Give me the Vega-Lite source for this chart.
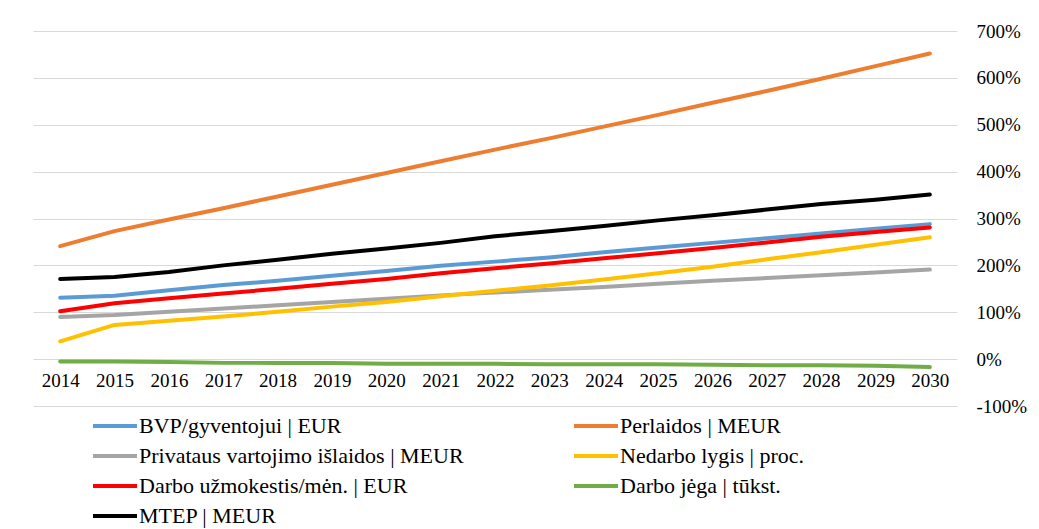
{
  "$schema": "https://vega.github.io/schema/vega-lite/v6.json",
  "width": 924,
  "height": 375,
  "autosize": "none",
  "padding": {"left": 33, "top": 31, "right": 82, "bottom": 123},
  "background": "white",
  "config": {
    "view": {"stroke": null},
    "font": "Liberation Serif"
  },
  "data": {
    "values": [
      {"year": "2014", "s": "BVP/gyventojui | EUR", "v": 131},
      {"year": "2015", "s": "BVP/gyventojui | EUR", "v": 135},
      {"year": "2016", "s": "BVP/gyventojui | EUR", "v": 147},
      {"year": "2017", "s": "BVP/gyventojui | EUR", "v": 158},
      {"year": "2018", "s": "BVP/gyventojui | EUR", "v": 167},
      {"year": "2019", "s": "BVP/gyventojui | EUR", "v": 178},
      {"year": "2020", "s": "BVP/gyventojui | EUR", "v": 188},
      {"year": "2021", "s": "BVP/gyventojui | EUR", "v": 199},
      {"year": "2022", "s": "BVP/gyventojui | EUR", "v": 208},
      {"year": "2023", "s": "BVP/gyventojui | EUR", "v": 217},
      {"year": "2024", "s": "BVP/gyventojui | EUR", "v": 228},
      {"year": "2025", "s": "BVP/gyventojui | EUR", "v": 238},
      {"year": "2026", "s": "BVP/gyventojui | EUR", "v": 248},
      {"year": "2027", "s": "BVP/gyventojui | EUR", "v": 258},
      {"year": "2028", "s": "BVP/gyventojui | EUR", "v": 268},
      {"year": "2029", "s": "BVP/gyventojui | EUR", "v": 278},
      {"year": "2030", "s": "BVP/gyventojui | EUR", "v": 288},

      {"year": "2014", "s": "Perlaidos | MEUR", "v": 241},
      {"year": "2015", "s": "Perlaidos | MEUR", "v": 273},
      {"year": "2016", "s": "Perlaidos | MEUR", "v": 298},
      {"year": "2017", "s": "Perlaidos | MEUR", "v": 322},
      {"year": "2018", "s": "Perlaidos | MEUR", "v": 347},
      {"year": "2019", "s": "Perlaidos | MEUR", "v": 372},
      {"year": "2020", "s": "Perlaidos | MEUR", "v": 397},
      {"year": "2021", "s": "Perlaidos | MEUR", "v": 422},
      {"year": "2022", "s": "Perlaidos | MEUR", "v": 447},
      {"year": "2023", "s": "Perlaidos | MEUR", "v": 471},
      {"year": "2024", "s": "Perlaidos | MEUR", "v": 496},
      {"year": "2025", "s": "Perlaidos | MEUR", "v": 521},
      {"year": "2026", "s": "Perlaidos | MEUR", "v": 547},
      {"year": "2027", "s": "Perlaidos | MEUR", "v": 572},
      {"year": "2028", "s": "Perlaidos | MEUR", "v": 598},
      {"year": "2029", "s": "Perlaidos | MEUR", "v": 625},
      {"year": "2030", "s": "Perlaidos | MEUR", "v": 652},

      {"year": "2014", "s": "Privataus vartojimo išlaidos | MEUR", "v": 90},
      {"year": "2015", "s": "Privataus vartojimo išlaidos | MEUR", "v": 94},
      {"year": "2016", "s": "Privataus vartojimo išlaidos | MEUR", "v": 101},
      {"year": "2017", "s": "Privataus vartojimo išlaidos | MEUR", "v": 108},
      {"year": "2018", "s": "Privataus vartojimo išlaidos | MEUR", "v": 115},
      {"year": "2019", "s": "Privataus vartojimo išlaidos | MEUR", "v": 122},
      {"year": "2020", "s": "Privataus vartojimo išlaidos | MEUR", "v": 129},
      {"year": "2021", "s": "Privataus vartojimo išlaidos | MEUR", "v": 136},
      {"year": "2022", "s": "Privataus vartojimo išlaidos | MEUR", "v": 142},
      {"year": "2023", "s": "Privataus vartojimo išlaidos | MEUR", "v": 148},
      {"year": "2024", "s": "Privataus vartojimo išlaidos | MEUR", "v": 154},
      {"year": "2025", "s": "Privataus vartojimo išlaidos | MEUR", "v": 161},
      {"year": "2026", "s": "Privataus vartojimo išlaidos | MEUR", "v": 167},
      {"year": "2027", "s": "Privataus vartojimo išlaidos | MEUR", "v": 173},
      {"year": "2028", "s": "Privataus vartojimo išlaidos | MEUR", "v": 179},
      {"year": "2029", "s": "Privataus vartojimo išlaidos | MEUR", "v": 185},
      {"year": "2030", "s": "Privataus vartojimo išlaidos | MEUR", "v": 191},

      {"year": "2014", "s": "Nedarbo lygis | proc.", "v": 38},
      {"year": "2015", "s": "Nedarbo lygis | proc.", "v": 73},
      {"year": "2016", "s": "Nedarbo lygis | proc.", "v": 82},
      {"year": "2017", "s": "Nedarbo lygis | proc.", "v": 91},
      {"year": "2018", "s": "Nedarbo lygis | proc.", "v": 101},
      {"year": "2019", "s": "Nedarbo lygis | proc.", "v": 112},
      {"year": "2020", "s": "Nedarbo lygis | proc.", "v": 122},
      {"year": "2021", "s": "Nedarbo lygis | proc.", "v": 134},
      {"year": "2022", "s": "Nedarbo lygis | proc.", "v": 146},
      {"year": "2023", "s": "Nedarbo lygis | proc.", "v": 157},
      {"year": "2024", "s": "Nedarbo lygis | proc.", "v": 170},
      {"year": "2025", "s": "Nedarbo lygis | proc.", "v": 183},
      {"year": "2026", "s": "Nedarbo lygis | proc.", "v": 197},
      {"year": "2027", "s": "Nedarbo lygis | proc.", "v": 213},
      {"year": "2028", "s": "Nedarbo lygis | proc.", "v": 228},
      {"year": "2029", "s": "Nedarbo lygis | proc.", "v": 244},
      {"year": "2030", "s": "Nedarbo lygis | proc.", "v": 260},

      {"year": "2014", "s": "Darbo užmokestis/mėn. | EUR", "v": 102},
      {"year": "2015", "s": "Darbo užmokestis/mėn. | EUR", "v": 119},
      {"year": "2016", "s": "Darbo užmokestis/mėn. | EUR", "v": 130},
      {"year": "2017", "s": "Darbo užmokestis/mėn. | EUR", "v": 140},
      {"year": "2018", "s": "Darbo užmokestis/mėn. | EUR", "v": 150},
      {"year": "2019", "s": "Darbo užmokestis/mėn. | EUR", "v": 161},
      {"year": "2020", "s": "Darbo užmokestis/mėn. | EUR", "v": 171},
      {"year": "2021", "s": "Darbo užmokestis/mėn. | EUR", "v": 183},
      {"year": "2022", "s": "Darbo užmokestis/mėn. | EUR", "v": 194},
      {"year": "2023", "s": "Darbo užmokestis/mėn. | EUR", "v": 204},
      {"year": "2024", "s": "Darbo užmokestis/mėn. | EUR", "v": 215},
      {"year": "2025", "s": "Darbo užmokestis/mėn. | EUR", "v": 226},
      {"year": "2026", "s": "Darbo užmokestis/mėn. | EUR", "v": 237},
      {"year": "2027", "s": "Darbo užmokestis/mėn. | EUR", "v": 249},
      {"year": "2028", "s": "Darbo užmokestis/mėn. | EUR", "v": 261},
      {"year": "2029", "s": "Darbo užmokestis/mėn. | EUR", "v": 271},
      {"year": "2030", "s": "Darbo užmokestis/mėn. | EUR", "v": 281},

      {"year": "2014", "s": "Darbo jėga | tūkst.", "v": -5},
      {"year": "2015", "s": "Darbo jėga | tūkst.", "v": -5},
      {"year": "2016", "s": "Darbo jėga | tūkst.", "v": -6},
      {"year": "2017", "s": "Darbo jėga | tūkst.", "v": -8},
      {"year": "2018", "s": "Darbo jėga | tūkst.", "v": -8},
      {"year": "2019", "s": "Darbo jėga | tūkst.", "v": -8},
      {"year": "2020", "s": "Darbo jėga | tūkst.", "v": -10},
      {"year": "2021", "s": "Darbo jėga | tūkst.", "v": -10},
      {"year": "2022", "s": "Darbo jėga | tūkst.", "v": -10},
      {"year": "2023", "s": "Darbo jėga | tūkst.", "v": -11},
      {"year": "2024", "s": "Darbo jėga | tūkst.", "v": -11},
      {"year": "2025", "s": "Darbo jėga | tūkst.", "v": -11},
      {"year": "2026", "s": "Darbo jėga | tūkst.", "v": -12},
      {"year": "2027", "s": "Darbo jėga | tūkst.", "v": -13},
      {"year": "2028", "s": "Darbo jėga | tūkst.", "v": -13},
      {"year": "2029", "s": "Darbo jėga | tūkst.", "v": -14},
      {"year": "2030", "s": "Darbo jėga | tūkst.", "v": -17},

      {"year": "2014", "s": "MTEP | MEUR", "v": 171},
      {"year": "2015", "s": "MTEP | MEUR", "v": 175},
      {"year": "2016", "s": "MTEP | MEUR", "v": 186},
      {"year": "2017", "s": "MTEP | MEUR", "v": 200},
      {"year": "2018", "s": "MTEP | MEUR", "v": 212},
      {"year": "2019", "s": "MTEP | MEUR", "v": 225},
      {"year": "2020", "s": "MTEP | MEUR", "v": 236},
      {"year": "2021", "s": "MTEP | MEUR", "v": 248},
      {"year": "2022", "s": "MTEP | MEUR", "v": 262},
      {"year": "2023", "s": "MTEP | MEUR", "v": 273},
      {"year": "2024", "s": "MTEP | MEUR", "v": 284},
      {"year": "2025", "s": "MTEP | MEUR", "v": 296},
      {"year": "2026", "s": "MTEP | MEUR", "v": 307},
      {"year": "2027", "s": "MTEP | MEUR", "v": 319},
      {"year": "2028", "s": "MTEP | MEUR", "v": 331},
      {"year": "2029", "s": "MTEP | MEUR", "v": 340},
      {"year": "2030", "s": "MTEP | MEUR", "v": 351}
    ]
  },
  "mark": {"type": "line", "strokeWidth": 4, "interpolate": "linear", "strokeCap": "round", "strokeJoin": "round"},
  "encoding": {
    "x": {
      "field": "year",
      "type": "ordinal",
      "scale": {"type": "point", "padding": 0.5},
      "axis": {
        "title": null,
        "labelAngle": 0,
        "ticks": false,
        "domain": false,
        "grid": false,
        "offset": -47,
        "labelPadding": 12,
        "labelFont": "Liberation Serif",
        "labelFontSize": 19,
        "labelColor": "#000000"
      }
    },
    "y": {
      "field": "v",
      "type": "quantitative",
      "scale": {"domain": [-100, 700], "nice": false, "zero": false},
      "axis": {
        "orient": "right",
        "title": null,
        "values": [-100, 0, 100, 200, 300, 400, 500, 600, 700],
        "labelExpr": "datum.value + '%'",
        "ticks": false,
        "domain": false,
        "grid": true,
        "gridColor": "#d9d9d9",
        "gridWidth": 1,
        "labelAlign": "left",
        "labelPadding": 19,
        "labelFont": "Liberation Serif",
        "labelFontSize": 19,
        "labelColor": "#000000"
      }
    },
    "color": {
      "field": "s",
      "type": "nominal",
      "scale": {
        "domain": ["BVP/gyventojui | EUR", "Privataus vartojimo išlaidos | MEUR", "Darbo užmokestis/mėn. | EUR", "MTEP | MEUR", "Perlaidos | MEUR", "Nedarbo lygis | proc.", "Darbo jėga | tūkst."],
        "range": ["#5b9bd5", "#a5a5a5", "#ff0000", "#000000", "#ed7d31", "#ffc000", "#70ad47"]
      },
      "legend": {
        "title": null,
        "orient": "none",
        "legendX": 69,
        "legendY": 382,
        "columns": 2,
        "symbolType": "M-2,0H2",
        "symbolSize": 484,
        "symbolStrokeWidth": 4,
        "labelFont": "Liberation Serif",
        "labelFontSize": 22,
        "labelColor": "#000000",
        "labelOffset": 11,
        "labelLimit": 500,
        "rowPadding": 6,
        "columnPadding": 102,
        "padding": 0
      }
    }
  }
}
